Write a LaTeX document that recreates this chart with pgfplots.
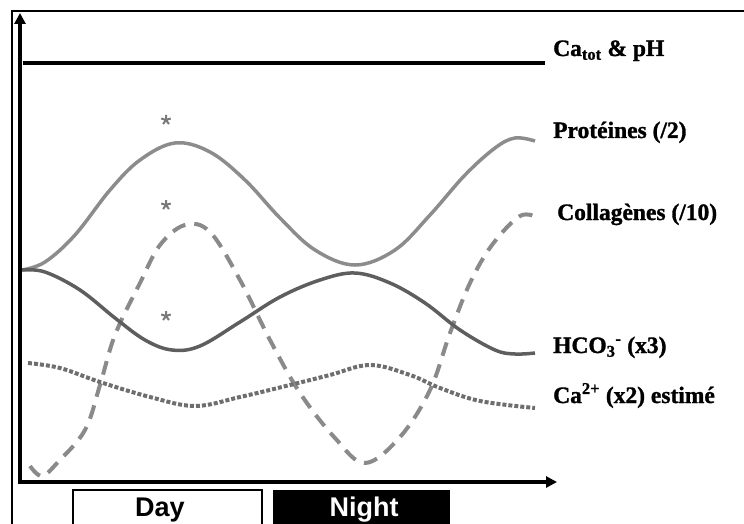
\documentclass[border=0pt]{standalone}
\usepackage{fontspec}
\setmainfont{Liberation Serif}
\newfontfamily\labfont{Liberation Serif}[BoldFeatures={FakeBold=1.3}]
\newfontfamily\arial{Liberation Sans}
\usepackage{pgfplots}
\pgfplotsset{compat=1.18}
\usetikzlibrary{arrows.meta}

\definecolor{protcol}{HTML}{8C8C8C}
\definecolor{hcocol}{HTML}{5E5E5E}
\definecolor{collcol}{HTML}{8A8A8A}
\definecolor{cacol}{HTML}{6E6E6E}
\definecolor{starcol}{HTML}{7A7A7A}

\begin{document}
\begin{tikzpicture}
\begin{axis}[
  x=1pt, y=1pt,
  xmin=0, xmax=744, ymin=0, ymax=524,
  y dir=reverse,
  hide axis, scale only axis, clip=false,
]
% outer frame
\draw[line width=2pt] (axis cs:12,524) -- (axis cs:12,11) -- (axis cs:744,11);

% Ca_tot & pH: constant
\addplot[black, line width=3.5pt] coordinates {(23,63) (545,63)};

% Proteines (/2)
\addplot[protcol, line width=3.5pt, smooth, tension=0.6] coordinates {
  (22,270) (45,262) (75,235) (110,190) (140,160) (175,143) (210,152)
  (245,180) (280,218) (315,250) (355,265) (395,250) (430,215) (465,175)
  (495,148) (515,138) (535,141)};

% Collagenes (/10)
\addplot[collcol, line width=4pt, smooth, tension=0.6, dash pattern=on 14pt off 9pt] coordinates {
  (30,466) (42,476) (58,462) (85,430) (100,385) (115,335) (140,283) (160,245)
  (185,225) (210,232) (240,280) (270,340) (300,393) (335,438) (365,463)
  (400,437) (430,390) (450,333) (470,283) (492,245) (520,216) (538,218)};

% HCO3- (x3)
\addplot[hcocol, line width=3.5pt, smooth, tension=0.6] coordinates {
  (22,270) (45,272) (80,290) (115,318) (145,340) (172,350) (200,346)
  (240,322) (280,297) (320,280) (355,273) (390,283) (425,303) (460,330)
  (495,350) (515,354) (535,353)};

% Ca2+ (x2) estime
\addplot[cacol, line width=4pt, smooth, tension=0.6, dash pattern=on 4pt off 2pt] coordinates {
  (28,363) (60,368) (100,382) (150,397) (195,406) (240,397) (290,385)
  (330,375) (370,365) (410,375) (440,388) (480,401) (535,408)};

% significance marks
\addplot[only marks, mark=star, mark size=5pt, starcol, line width=2pt] coordinates {
  (166,120) (166,205) (166,316)};

% axes
\draw[line width=4pt, -{Triangle[length=11pt,width=11pt]}] (axis cs:20,484) -- (axis cs:20,13);
\draw[line width=4pt, -{Triangle[length=11pt,width=11pt]}] (axis cs:18,482) -- (axis cs:557,482);

% series labels
\begin{scope}[every node/.style={anchor=base west, inner sep=0pt, font=\labfont\fontsize{23.5}{26}\selectfont\bfseries}]
\node at (axis cs:553,56) {Ca\textsubscript{tot} \& pH};
\node at (axis cs:553,138) {Protéines (/2)};
\node at (axis cs:557,220) {Collagènes (/10)};
\node at (axis cs:553,353) {HCO\textsubscript{3}\textsuperscript{-} (x3)};
\node at (axis cs:553,403) {Ca\textsuperscript{2+} (x2) estimé};
\end{scope}

% day / night bar
\draw[line width=1.5pt, fill=white] (axis cs:73,530) rectangle (axis cs:262,490);
\fill[black] (axis cs:273,530) rectangle (axis cs:450,490);
\node[anchor=base, inner sep=0pt, font=\arial\bfseries\fontsize{27}{30}\selectfont] at (axis cs:160,516) {Day};
\node[anchor=base, inner sep=0pt, text=white, font=\arial\bfseries\fontsize{27}{30}\selectfont] at (axis cs:364,516) {Night};
\end{axis}
\pgfresetboundingbox
\path (current axis.south west) rectangle (current axis.north east);
\end{tikzpicture}
\end{document}
